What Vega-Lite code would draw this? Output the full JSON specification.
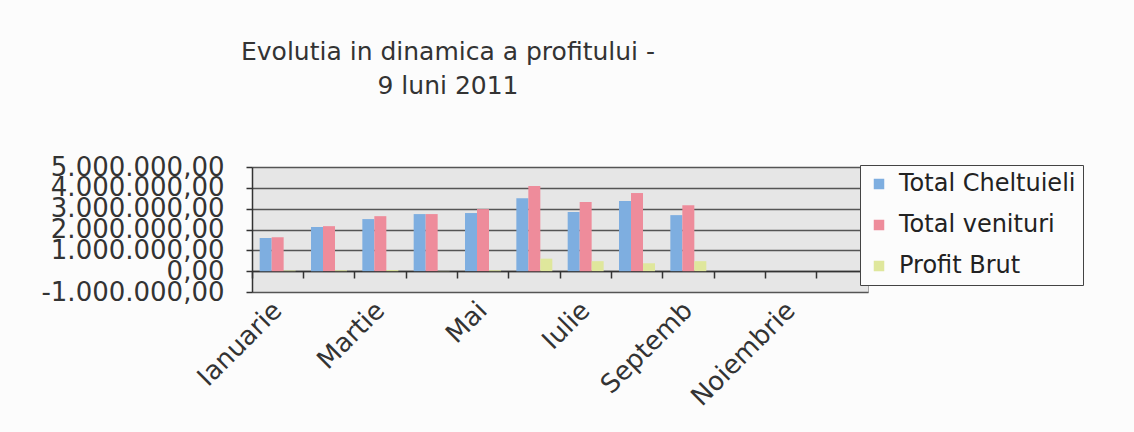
{
  "$schema": "https://vega.github.io/schema/vega-lite/v6.json",
  "width": 616,
  "height": 125,
  "autosize": {"type": "none"},
  "padding": {"left": 252, "top": 167, "right": 266, "bottom": 140},
  "background": "#fcfcfc",
  "config": {
    "locale": {"number": {"decimal": ",", "thousands": ".", "grouping": [3], "currency": ["", ""], "minus": "-"}},
    "font": "DejaVu Sans",
    "view": {"fill": "#e6e6e6", "stroke": "#a8a8a8"}
  },
  "title": {
    "text": ["Evolutia in dinamica a profitului -", "9 luni 2011"],
    "fontSize": 25,
    "font": "DejaVu Sans",
    "fontWeight": "normal",
    "color": "#333333",
    "lineHeight": 34,
    "anchor": "middle",
    "dx": -112,
    "offset": 55
  },
  "data": {
    "values": [
      {"luna": "Ianuarie", "serie": "Total Cheltuieli", "valoare": 1590000},
      {"luna": "Ianuarie", "serie": "Total venituri", "valoare": 1630000},
      {"luna": "Ianuarie", "serie": "Profit Brut", "valoare": 30000},
      {"luna": "Februarie", "serie": "Total Cheltuieli", "valoare": 2120000},
      {"luna": "Februarie", "serie": "Total venituri", "valoare": 2160000},
      {"luna": "Februarie", "serie": "Profit Brut", "valoare": 40000},
      {"luna": "Martie", "serie": "Total Cheltuieli", "valoare": 2500000},
      {"luna": "Martie", "serie": "Total venituri", "valoare": 2640000},
      {"luna": "Martie", "serie": "Profit Brut", "valoare": 50000},
      {"luna": "Aprilie", "serie": "Total Cheltuieli", "valoare": 2740000},
      {"luna": "Aprilie", "serie": "Total venituri", "valoare": 2740000},
      {"luna": "Aprilie", "serie": "Profit Brut", "valoare": 10000},
      {"luna": "Mai", "serie": "Total Cheltuieli", "valoare": 2790000},
      {"luna": "Mai", "serie": "Total venituri", "valoare": 2980000},
      {"luna": "Mai", "serie": "Profit Brut", "valoare": 40000},
      {"luna": "Iunie", "serie": "Total Cheltuieli", "valoare": 3500000},
      {"luna": "Iunie", "serie": "Total venituri", "valoare": 4090000},
      {"luna": "Iunie", "serie": "Profit Brut", "valoare": 600000},
      {"luna": "Iulie", "serie": "Total Cheltuieli", "valoare": 2840000},
      {"luna": "Iulie", "serie": "Total venituri", "valoare": 3320000},
      {"luna": "Iulie", "serie": "Profit Brut", "valoare": 480000},
      {"luna": "August", "serie": "Total Cheltuieli", "valoare": 3370000},
      {"luna": "August", "serie": "Total venituri", "valoare": 3750000},
      {"luna": "August", "serie": "Profit Brut", "valoare": 380000},
      {"luna": "Septemb", "serie": "Total Cheltuieli", "valoare": 2690000},
      {"luna": "Septemb", "serie": "Total venituri", "valoare": 3170000},
      {"luna": "Septemb", "serie": "Profit Brut", "valoare": 480000}
    ]
  },
  "layer": [
    {
      "mark": {"type": "bar", "strokeWidth": 0},
      "encoding": {
        "x": {
          "field": "luna",
          "type": "nominal",
          "scale": {
            "domain": ["Ianuarie", "Februarie", "Martie", "Aprilie", "Mai", "Iunie", "Iulie", "August", "Septemb", "Octombrie", "Noiembrie", "Decembrie"],
            "paddingInner": 0,
            "paddingOuter": 0
          },
          "axis": {
            "orient": "bottom",
            "offset": -21,
            "labels": false,
            "title": null,
            "bandPosition": 0,
            "tickSize": 7,
            "tickWidth": 1.5,
            "tickColor": "#333333",
            "domainColor": "#333333",
            "domainWidth": 1.5,
            "grid": false
          }
        },
        "xOffset": {
          "field": "serie",
          "type": "nominal",
          "sort": ["Total Cheltuieli", "Total venituri", "Profit Brut"],
          "scale": {"paddingInner": 0, "paddingOuter": 0.64}
        },
        "y": {
          "field": "valoare",
          "type": "quantitative",
          "scale": {"domain": [-1000000, 5000000], "nice": false},
          "axis": {
            "values": [-1000000, 0, 1000000, 2000000, 3000000, 4000000, 5000000],
            "format": ",.2f",
            "title": null,
            "labelFontSize": 26,
            "labelColor": "#333333",
            "labelPadding": 22,
            "labelOverlap": false,
            "labelLimit": 0,
            "labelBound": false,
            "tickSize": 6,
            "tickWidth": 1.5,
            "tickColor": "#333333",
            "domainColor": "#333333",
            "domainWidth": 1.5,
            "grid": true,
            "gridColor": "#555555",
            "gridWidth": 1.5
          }
        },
        "color": {
          "field": "serie",
          "type": "nominal",
          "sort": ["Total Cheltuieli", "Total venituri", "Profit Brut"],
          "scale": {
            "domain": ["Total Cheltuieli", "Total venituri", "Profit Brut"],
            "range": ["#7eaee0", "#ee8c9b", "#dfe79c"]
          },
          "legend": {
            "orient": "none",
            "legendX": 608,
            "legendY": -2,
            "title": null,
            "labelFontSize": 24,
            "labelColor": "#222222",
            "labelLimit": 0,
            "symbolType": "square",
            "symbolSize": 110,
            "symbolStrokeWidth": 0,
            "symbolOpacity": 1,
            "strokeColor": "#444444",
            "fillColor": "#fcfcfc",
            "padding": 7,
            "rowPadding": 17,
            "labelOffset": 8
          }
        }
      }
    },
    {
      "mark": {"type": "point", "opacity": 0},
      "encoding": {
        "x": {
          "field": "luna",
          "type": "nominal",
          "scale": {
            "type": "band",
            "domain": ["Ianuarie", "Februarie", "Martie", "Aprilie", "Mai", "Iunie", "Iulie", "August", "Septemb", "Octombrie", "Noiembrie", "Decembrie"],
            "paddingInner": 0,
            "paddingOuter": 0
          },
          "axis": {
            "orient": "bottom",
            "values": ["Ianuarie", "Martie", "Mai", "Iulie", "Septemb", "Noiembrie"],
            "ticks": false,
            "domain": false,
            "grid": false,
            "labelAngle": -45,
            "labelFontSize": 26,
            "labelAlign": "right",
            "labelBaseline": "middle",
            "labelPadding": 14,
            "labelOverlap": false,
            "labelLimit": 0,
            "labelColor": "#333333",
            "title": null
          }
        }
      }
    }
  ],
  "resolve": {"scale": {"x": "independent"}, "axis": {"x": "independent"}}
}
